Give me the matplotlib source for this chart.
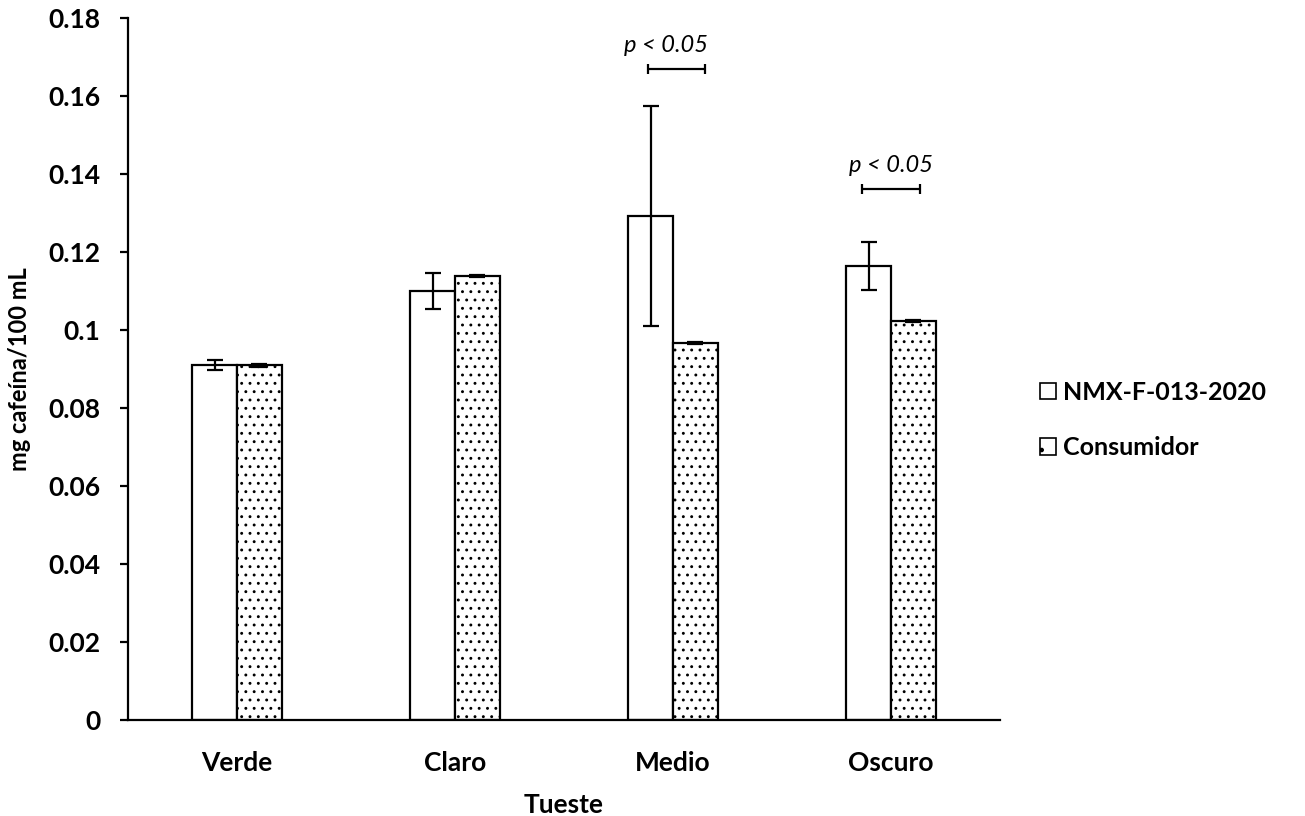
import matplotlib
matplotlib.use("Agg")
import matplotlib.pyplot as plt
import numpy as np
from matplotlib.patches import Patch

plt.rcParams['font.family'] = ['Lato', 'DejaVu Sans']
plt.rcParams['hatch.linewidth'] = 0.9

categories = ["Verde", "Claro", "Medio", "Oscuro"]
series_names = ["NMX-F-013-2020", "Consumidor"]
nmx_values = [0.0910, 0.1100, 0.1292, 0.1164]
nmx_errors = [0.0012, 0.0047, 0.0283, 0.0062]
cons_values = [0.0910, 0.1138, 0.0967, 0.1023]
cons_errors = [0.0004, 0.0003, 0.0003, 0.0003]
ytick_values = [0, 0.02, 0.04, 0.06, 0.08, 0.10, 0.12, 0.14, 0.16, 0.18]
ytick_labels = ["0", "0.02", "0.04", "0.06", "0.08", "0.1", "0.12", "0.14", "0.16", "0.18"]
sig_categories = ["Medio", "Oscuro"]
sig_levels = [0.1670, 0.1362]
sig_bracket_shift = [0.016, 0.0]
sig_text_shift = [-0.03, 0.0]
sig_text = "p < 0.05"

fig = plt.figure(figsize=(13.05, 8.16), dpi=100)
ax = fig.add_axes([128/1305, 1-720/816, 872/1305, 702/816])

x = np.arange(len(categories))
w = 0.205
lw = 1.6
ax.bar(x - w/2, nmx_values, w, color='white', edgecolor='black', linewidth=lw,
       label=series_names[0], zorder=2)
ax.bar(x + w/2, cons_values, w, color='white', edgecolor='black', linewidth=lw,
       hatch='..', label=series_names[1], zorder=2)
ax.errorbar(x - w/2, nmx_values, yerr=nmx_errors, fmt='none', ecolor='black',
            elinewidth=1.6, capsize=5.5, capthick=1.6, zorder=3)
ax.errorbar(x + w/2, cons_values, yerr=cons_errors, fmt='none', ecolor='black',
            elinewidth=1.6, capsize=5.5, capthick=1.6, zorder=3)

for cat, lev, bs, ts in zip(sig_categories, sig_levels, sig_bracket_shift, sig_text_shift):
    i = categories.index(cat)
    ax.errorbar([i + bs], [lev], xerr=[[0.131], [0.131]], fmt='none', ecolor='black',
                elinewidth=1.6, capsize=3.5, capthick=1.6)
    ax.text(i + ts, lev + 0.0032, sig_text, ha='center', va='bottom',
            fontsize=17, style='italic')

ax.set_xlim(-0.5, len(categories) - 0.5)
ax.set_ylim(0, 0.18)
ax.set_yticks(ytick_values)
ax.set_yticklabels(ytick_labels, fontsize=19, fontweight='bold')
ax.set_xticks(x)
ax.set_xticklabels(categories, fontsize=19, fontweight='bold')
ax.tick_params(axis='x', length=0, pad=22)
ax.tick_params(axis='y', length=6, width=1.6, direction='out', pad=14)
for s in ['top', 'right']:
    ax.spines[s].set_visible(False)
for s in ['left', 'bottom']:
    ax.spines[s].set_linewidth(1.6)

ax.set_xlabel("Tueste", fontsize=19, fontweight='bold', labelpad=13)
ax.set_ylabel("mg cafeína/100 mL", fontsize=17, fontweight='bold', labelpad=12)

handles = [Patch(facecolor='white', edgecolor='black', linewidth=1.2),
           Patch(facecolor='white', edgecolor='black', linewidth=1.2, hatch='.')]
fig.legend(handles, series_names, loc='center left',
           bbox_to_anchor=(1040/1305, 1-420/816), frameon=False,
           borderaxespad=0, borderpad=0,
           prop={'size': 18, 'weight': 'bold'}, handlelength=0.62, handleheight=0.62,
           handletextpad=0.3, labelspacing=1.3)

fig.savefig("out.png", dpi=100)
